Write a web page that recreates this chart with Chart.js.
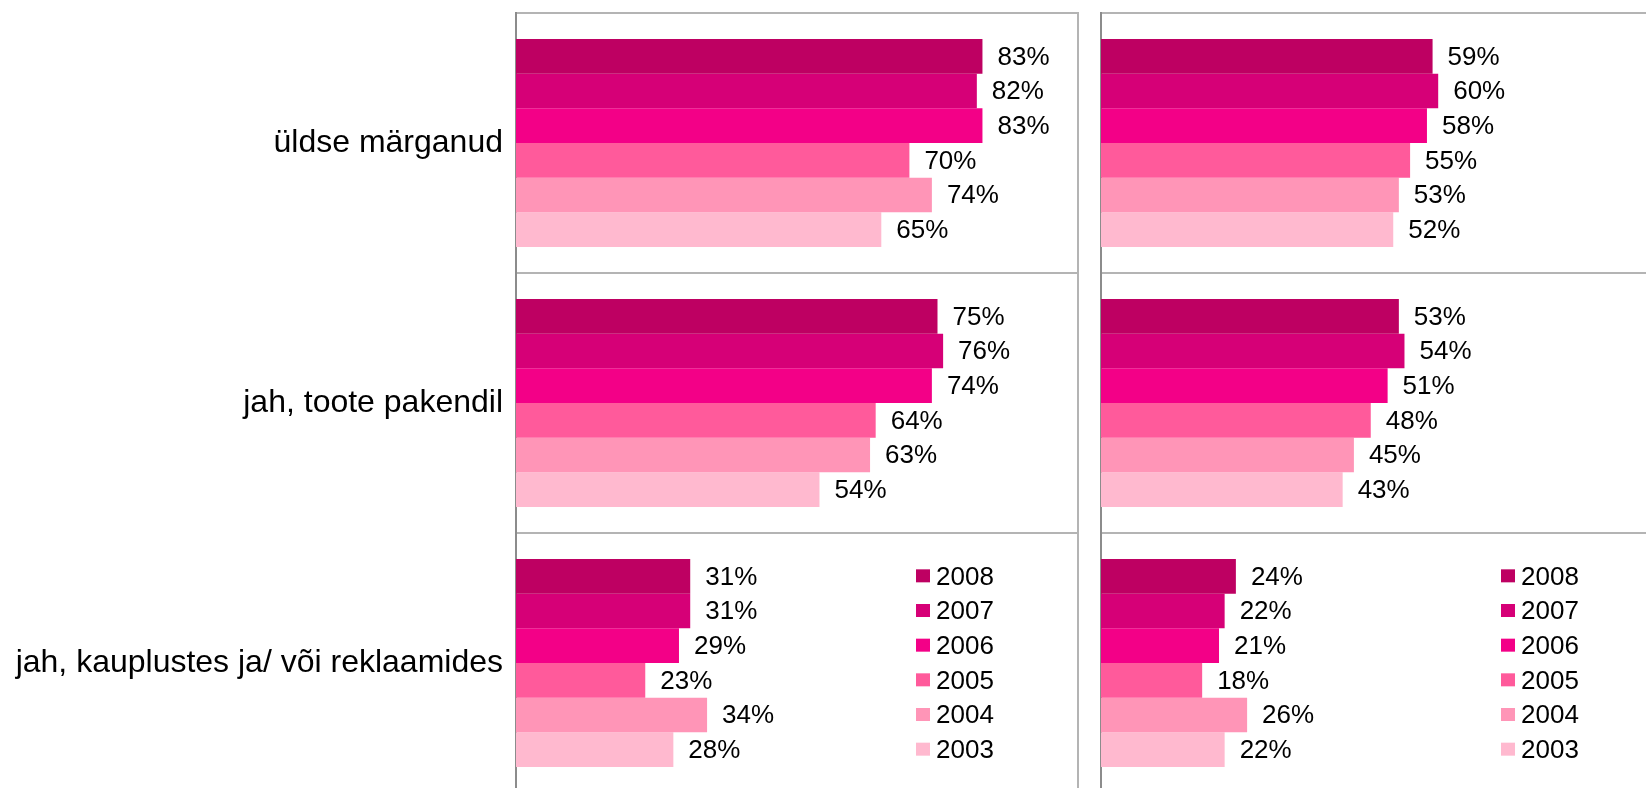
<!DOCTYPE html>
<html>
<head>
<meta charset="utf-8">
<script src="https://cdn.jsdelivr.net/npm/chart.js@4"></script>
<style>
  html, body { margin: 0; padding: 0; background: #fff; overflow: hidden; }
  .panel { position: absolute; top: 0; height: 796px; }
  #leftBox { left: 0; width: 1080px; }
  #rightBox { left: 1100px; width: 566px; }
</style>
</head>
<body>
<div class="panel" id="leftBox"><canvas id="leftChart"></canvas></div>
<div class="panel" id="rightBox"><canvas id="rightChart"></canvas></div>
<script>
const categories = ["üldse märganud", "jah, toote pakendil", "jah, kauplustes ja/ või reklaamides"];
const years = ["2008", "2007", "2006", "2005", "2004", "2003"];
const colors = ["#be0062", "#d60077", "#f30087", "#ff5a9b", "#ff95b7", "#ffb9cf"];

// left panel
const left2008 = [83, 75, 31];
const left2007 = [82, 76, 31];
const left2006 = [83, 74, 29];
const left2005 = [70, 64, 23];
const left2004 = [74, 63, 34];
const left2003 = [65, 54, 28];

// right panel
const right2008 = [59, 53, 24];
const right2007 = [60, 54, 22];
const right2006 = [58, 51, 21];
const right2005 = [55, 48, 18];
const right2004 = [53, 45, 26];
const right2003 = [52, 43, 22];

Chart.defaults.font.family = '"Liberation Sans", Arial, sans-serif';
Chart.defaults.color = "#000";

// percent labels right of each bar
const barLabels = {
  id: "barLabels",
  afterDatasetsDraw(chart) {
    const ctx = chart.ctx;
    ctx.save();
    ctx.font = '26px "Liberation Sans", Arial, sans-serif';
    ctx.fillStyle = "#000";
    ctx.textAlign = "left";
    ctx.textBaseline = "middle";
    chart.data.datasets.forEach((ds, i) => {
      chart.getDatasetMeta(i).data.forEach((bar, j) => {
        ctx.fillText(ds.data[j] + "%", bar.x + 15, bar.y + 1);
      });
    });
    ctx.restore();
  },
};

// legend sitting next to the bars of the last category
const yearLegend = {
  id: "yearLegend",
  afterDraw(chart) {
    const ctx = chart.ctx;
    const x0 = chart.chartArea.left + 400;
    ctx.save();
    ctx.font = '26px "Liberation Sans", Arial, sans-serif';
    ctx.textAlign = "left";
    ctx.textBaseline = "middle";
    chart.data.datasets.forEach((ds, i) => {
      const bar = chart.getDatasetMeta(i).data[2];
      ctx.fillStyle = ds.backgroundColor;
      ctx.fillRect(x0, bar.y - 7, 14, 13);
      ctx.fillStyle = "#000";
      ctx.fillText(ds.label, x0 + 20, bar.y + 1);
    });
    ctx.restore();
  },
};

// right edge of the plot frame
const rightEdge = {
  id: "rightEdge",
  beforeDatasetsDraw(chart) {
    const a = chart.chartArea;
    const ctx = chart.ctx;
    ctx.save();
    ctx.strokeStyle = "#b4b4b4";
    ctx.lineWidth = 2;
    ctx.beginPath();
    ctx.moveTo(a.right, a.top - 1);
    ctx.lineTo(a.right, a.bottom);
    ctx.stroke();
    ctx.restore();
  },
};

function makeChart(id, series, withLabels) {
  new Chart(document.getElementById(id), {
    type: "bar",
    data: {
      labels: categories,
      datasets: years.map((y, i) => ({
        label: y,
        data: series[i],
        backgroundColor: colors[i],
        borderWidth: 0,
        categoryPercentage: 0.8,
        barPercentage: 1.0,
      })),
    },
    options: {
      indexAxis: "y",
      responsive: true,
      maintainAspectRatio: false,
      animation: false,
      layout: {
        padding: { top: 13, bottom: 3, left: withLabels ? 0 : 1, right: withLabels ? 2 : 3 },
      },
      scales: {
        x: {
          display: false,
          min: 0,
          max: 100,
        },
        y: {
          afterFit: (scale) => {
            scale.width = withLabels ? 516 : 0;
            scale.paddingTop = 0;
            scale.paddingBottom = 0;
          },
          grid: {
            offset: true,
            color: "#b4b4b4",
            lineWidth: 2,
            drawTicks: false,
          },
          border: {
            color: "#8c8c8c",
            width: 2,
          },
          ticks: {
            display: withLabels,
            padding: 13,
            color: "#000",
            font: { size: 32 },
          },
        },
      },
      plugins: {
        legend: { display: false },
        tooltip: { enabled: false },
      },
    },
    plugins: [rightEdge, barLabels, yearLegend],
  });
}

makeChart("leftChart", [left2008, left2007, left2006, left2005, left2004, left2003], true);
makeChart("rightChart", [right2008, right2007, right2006, right2005, right2004, right2003], false);
</script>
</body>
</html>
